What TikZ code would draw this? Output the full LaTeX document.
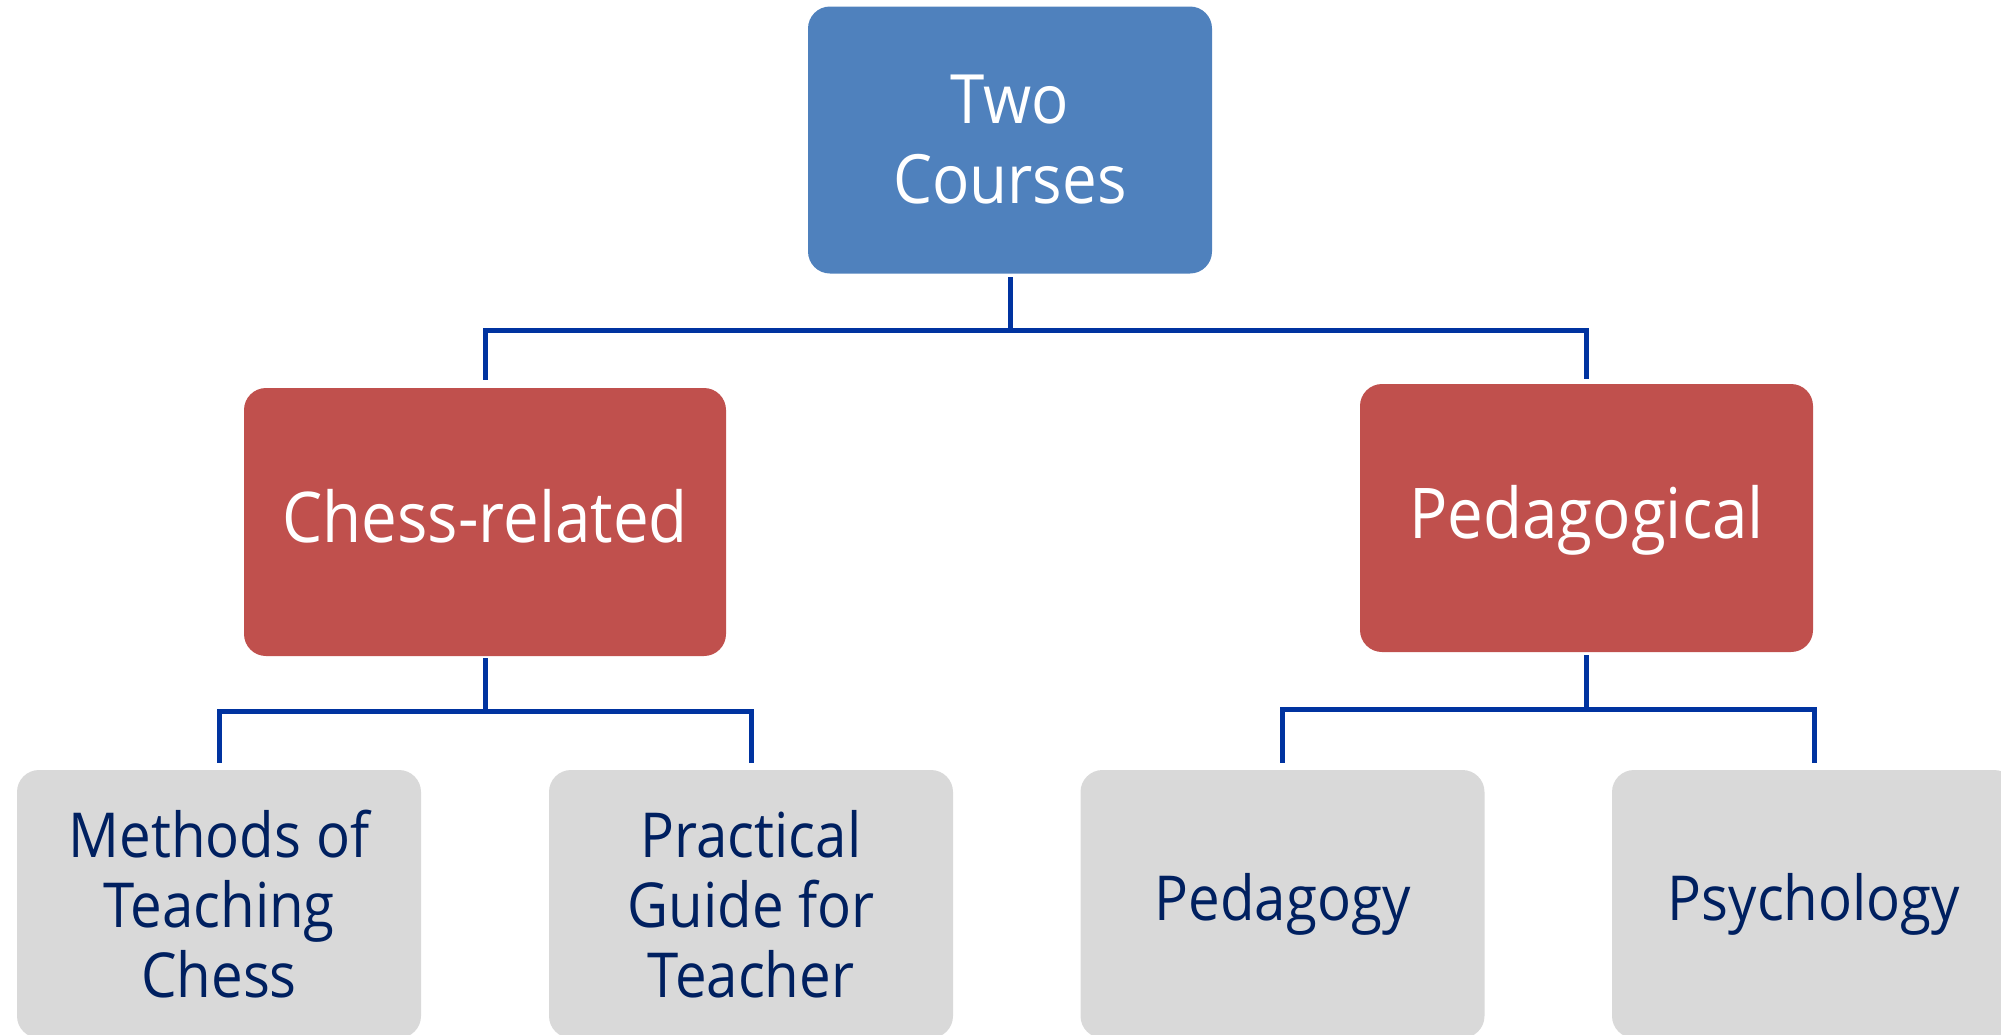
\documentclass[tikz,border=0pt]{standalone}
\usepackage{fontspec}
\setmainfont{Open Sans}[FakeStretch=0.91]
\usetikzlibrary{calc}
\definecolor{topblue}{HTML}{4F81BD}
\definecolor{midred}{HTML}{C0504D}
\definecolor{leafgray}{HTML}{D9D9D9}
\definecolor{leaftext}{HTML}{002060}
\definecolor{connblue}{HTML}{0033A0}
\begin{document}
\begin{tikzpicture}[x=1pt,y=-1pt,
 box/.style={rectangle, rounded corners=22pt, inner sep=0pt, align=center},
 topbox/.style={box, fill=topblue, text=white, minimum width=404pt, minimum height=267pt, font=\fontsize{68}{80}\selectfont},
 midbox/.style={box, fill=midred, text=white, minimum width=482pt, minimum height=268pt, text height=52pt, text depth=12pt, font=\fontsize{70}{82}\selectfont},
 leaf/.style={box, fill=leafgray, text=leaftext, minimum width=404pt, minimum height=268pt, font=\fontsize{62}{70}\selectfont},
 conn/.style={draw=connblue, line width=5pt}]
\clip (0,0) rectangle (2001,1034);
\node[topbox] (top) at (1010,140) {Two\\Courses};
\node[midbox] (chess) at (485,522) {Chess-related};
\node[midbox, minimum width=453pt] (ped) at (1586.5,518) {Pedagogical};
\node[leaf] (methods) at (219,904) {Methods of\\Teaching\\Chess};
\node[leaf] (practical) at (751,904) {Practical\\Guide for\\Teacher};
\node[leaf] (pedagogy) at (1282.5,904) {Pedagogy};
\node[leaf] (psychology) at (1814,904) {Psychology};
\coordinate (j0) at (1010,330);
\coordinate (j1) at (485,711);
\coordinate (j2) at (1586.5,709);
\draw[conn] (1010,277) -- (j0);
\draw[conn] (j0) -| (chess.north |- 0,380);
\draw[conn] (j0) -| (ped.north |- 0,379);
\draw[conn] (485,658) -- (j1);
\draw[conn] (j1) -| (methods.north |- 0,763);
\draw[conn] (j1) -| (practical.north |- 0,763);
\draw[conn] (1586.5,655) -- (j2);
\draw[conn] (j2) -| (pedagogy.north |- 0,763);
\draw[conn] (j2) -| (psychology.north |- 0,763);
\end{tikzpicture}
\end{document}
